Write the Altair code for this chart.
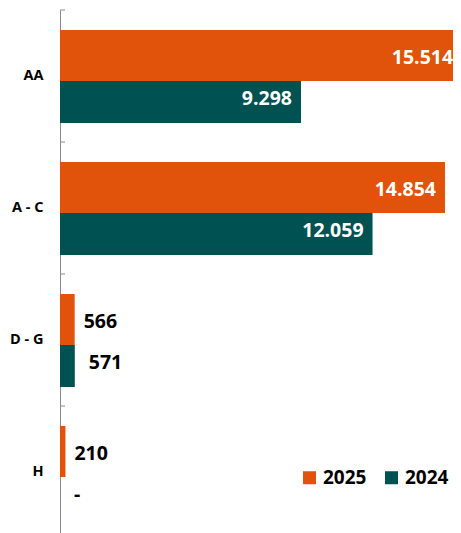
import altair as alt
import pandas as pd

categories = ["AA", "A - C", "D - G", "H"]
series = ["2025", "2024"]
values_2025 = [15514, 14854, 566, 210]
values_2024 = [9298, 12059, 571, 0]
colors = ["#E1520A", "#005151"]


def fmt(v):
    return "-" if v == 0 else f"{v:,}".replace(",", ".")


rows = []
for c, a, b in zip(categories, values_2025, values_2024):
    rows.append({"cat": c, "series": "2025", "value": a, "label": fmt(a), "inside": a >= 3000})
    rows.append({"cat": c, "series": "2024", "value": b, "label": fmt(b), "inside": b >= 3000})
df = pd.DataFrame(rows)
ticks_df = pd.DataFrame({"cat": categories})

FONT = "Open Sans"
yscale = alt.Scale(domain=categories, range=[0, 528], paddingInner=0, paddingOuter=0)
xscale = alt.Scale(domain=[0, 15163], nice=False, zero=True)
# per-series offset scales inside each category band
yoff = {
    "2025": alt.Scale(domain=["2025"], paddingInner=0, paddingOuter=0.794, align=0.247),
    "2024": alt.Scale(domain=["2024"], paddingInner=0.5, paddingOuter=0.536, align=0.789),
}
label_band = {"2025": 0.36, "2024": 0.675}

yaxis = alt.Axis(title=None, ticks=False, labelPadding=17, labelFont=FONT,
                 labelFontWeight="bold", labelFontSize=14.5, labelColor="#000000",
                 domainColor="#8a8a8a", domainWidth=1, grid=False)
legend = alt.Legend(title=None, orient="none", legendX=240, legendY=458,
                    direction="horizontal", symbolType="square",
                    symbolSize=169, symbolStrokeWidth=0,
                    labelFont=FONT, labelFontWeight="bold",
                    labelFontSize=19, labelColor="#000000",
                    columnPadding=15, padding=0, labelOffset=4)

txt_style = dict(font=FONT, fontWeight="bold", fontSize=19.5, baseline="middle")

layers = []
for s in series:
    sub = alt.Chart(df).transform_filter(f"datum.series == '{s}'")
    bar = sub.mark_bar(clip=True).encode(
        x=alt.X("value:Q", scale=xscale, axis=None),
        y=alt.Y("cat:N", scale=yscale, sort=categories, axis=yaxis),
        yOffset=alt.YOffset("series:N", scale=yoff[s]),
        color=alt.Color("series:N", scale=alt.Scale(domain=series, range=colors),
                        sort=series, legend=legend),
    )
    layers.append(bar)

for s, out_dx in zip(series, [9, 14]):
    enc = dict(
        x=alt.X("value:Q", scale=xscale, axis=None),
        y=alt.Y("cat:N", scale=yscale, sort=categories, axis=yaxis,
                bandPosition=label_band[s]),
        text="label:N",
    )
    sub = alt.Chart(df).transform_filter(f"datum.series == '{s}'")
    inside = sub.transform_filter("datum.inside").mark_text(
        align="right", dx=-9, color="#ffffff", **txt_style).encode(**enc)
    outside = sub.transform_filter("!datum.inside").mark_text(
        align="left", dx=out_dx, color="#000000", **txt_style).encode(**enc)
    layers += [inside, outside]

tick_rules = alt.Chart(ticks_df).mark_rule(color="#8a8a8a", strokeWidth=1).encode(
    y=alt.Y("cat:N", scale=yscale, sort=categories, bandPosition=0, axis=yaxis),
    x=alt.value(0),
    x2=alt.value(5),
)
layers.append(tick_rules)

chart = alt.layer(*layers).resolve_scale(yOffset="independent").properties(
    width=393, height=523,
    autosize=alt.AutoSizeParams(type="none"),
    padding={"left": 52, "top": 2, "right": 0, "bottom": 0},
).configure_view(strokeWidth=0)

chart.save("out.html", embed_options={"renderer": "svg", "actions": False})
